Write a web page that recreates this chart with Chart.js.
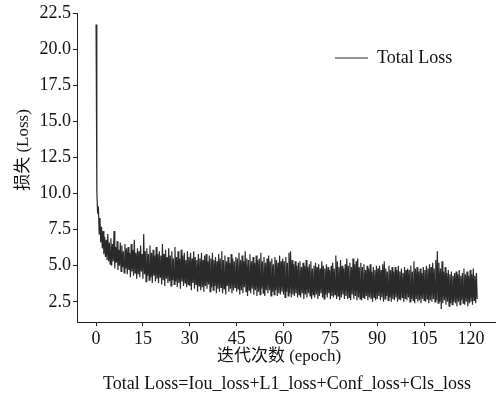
<!DOCTYPE html>
<html>
<head>
<meta charset="utf-8">
<script src="https://cdn.jsdelivr.net/npm/chart.js@4.4.1/dist/chart.umd.min.js"></script>
<style>
  html, body { margin: 0; padding: 0; background: #fff; }
  #wrap { width: 497px; height: 398px; }
</style>
</head>
<body>
<div id="wrap"><canvas id="myChart" width="497" height="398"></canvas></div>
<script>
// values, four samples per epoch
const epochStep = 0.25;
const lossValues = [
  21.7, 10.2, 8.6, 9.1, 7.2, 8.3, 6.6, 7.7, 6.2, 7.4, 5.8, 7.0, 5.6, 6.8, 5.4, 7.2, 5.3, 6.6, 5.1, 6.9,
  5.0, 6.5, 5.3, 7.4, 4.8, 6.3, 5.2, 6.7, 4.7, 6.1, 5.0, 6.6, 4.6, 6.4, 4.9, 6.0, 4.5, 6.5, 4.8, 6.2,
  4.4, 6.3, 4.7, 5.9, 4.2, 6.5, 4.6, 6.1, 4.3, 6.8, 4.5, 5.9, 4.1, 6.2, 4.4, 6.0, 4.2, 6.4, 4.6, 5.8,
  4.1, 7.2, 4.4, 6.0, 3.9, 6.2, 4.3, 5.8, 4.0, 6.4, 4.2, 5.9, 3.8, 6.1, 4.3, 5.7, 3.9, 6.3, 4.1, 5.8,
  3.8, 6.0, 4.2, 5.7, 3.7, 6.5, 4.0, 5.8, 3.6, 6.1, 4.1, 5.6, 3.8, 6.2, 3.9, 5.7, 3.6, 6.0, 4.0, 5.5,
  3.7, 6.3, 3.9, 5.6, 3.5, 6.0, 3.8, 5.5, 3.4, 6.1, 3.9, 5.7, 3.6, 5.9, 3.8, 5.4, 3.5, 6.0, 3.7, 5.6,
  3.6, 5.9, 3.3, 5.5, 3.8, 6.0, 3.4, 5.6, 3.7, 5.4, 3.2, 5.8, 3.6, 5.5, 3.3, 5.9, 3.5, 5.4, 3.2, 5.7,
  3.6, 5.8, 3.4, 5.3, 3.7, 5.7, 3.2, 5.5, 3.5, 5.9, 3.3, 5.4, 3.6, 5.6, 3.1, 5.3, 3.4, 5.8, 3.2, 5.5,
  3.5, 6.0, 3.1, 5.4, 3.4, 5.7, 3.0, 5.3, 3.6, 5.6, 3.2, 5.2, 3.4, 5.8, 3.1, 5.5, 3.3, 5.3, 3.5, 5.6,
  3.2, 5.5, 3.4, 5.9, 3.0, 5.4, 3.3, 5.7, 3.1, 5.3, 3.5, 6.0, 3.2, 5.5, 2.9, 5.4, 3.3, 5.8, 3.1, 5.3,
  3.4, 5.6, 3.0, 5.2, 3.3, 5.7, 2.9, 5.4, 3.2, 5.5, 3.0, 5.9, 3.4, 5.3, 3.1, 5.6, 2.9, 5.2, 3.3, 5.5,
  3.1, 5.7, 3.3, 5.3, 2.9, 5.5, 3.2, 5.1, 3.0, 5.6, 3.3, 5.4, 2.9, 5.2, 3.1, 5.7, 3.0, 5.3, 3.2, 5.5,
  3.0, 5.3, 2.8, 5.6, 3.2, 5.2, 2.9, 5.9, 3.1, 6.0, 2.8, 5.4, 3.0, 5.1, 2.9, 5.3, 3.1, 5.0, 2.8, 5.2,
  3.0, 5.3, 2.8, 4.9, 3.1, 5.2, 2.7, 5.0, 3.0, 5.4, 2.8, 4.9, 3.1, 5.1, 2.9, 5.3, 2.7, 4.8, 3.0, 5.0,
  2.8, 5.2, 3.0, 4.9, 2.7, 5.1, 2.9, 4.8, 3.1, 5.3, 2.8, 5.0, 2.7, 4.8, 3.0, 5.1, 2.8, 4.9, 3.1, 4.7,
  2.7, 5.0, 2.9, 5.2, 2.8, 4.8, 3.0, 5.7, 2.7, 5.3, 2.9, 4.9, 2.6, 5.4, 2.8, 5.0, 3.0, 4.8, 2.7, 5.1,
  2.9, 5.5, 2.7, 5.0, 2.8, 5.2, 2.6, 4.9, 3.0, 5.5, 2.7, 5.1, 2.9, 5.3, 2.6, 5.5, 2.8, 4.9, 2.7, 5.2,
  2.6, 4.9, 2.8, 5.1, 2.7, 4.7, 2.9, 5.0, 2.6, 4.8, 2.8, 5.1, 2.7, 4.6, 2.5, 4.9, 2.8, 4.7, 2.6, 5.0,
  2.7, 4.8, 2.9, 5.0, 2.6, 4.7, 2.8, 5.1, 2.5, 5.3, 2.7, 4.8, 2.9, 4.6, 2.6, 5.0, 2.8, 4.7, 2.5, 4.9,
  2.7, 4.6, 2.6, 4.9, 2.8, 4.7, 2.5, 5.0, 2.7, 4.6, 2.6, 4.8, 2.8, 4.5, 2.5, 4.9, 2.7, 4.7, 2.6, 4.8,
  2.8, 4.7, 2.5, 5.0, 2.7, 4.6, 2.6, 5.3, 2.4, 4.8, 2.7, 4.9, 2.5, 4.6, 2.6, 4.8, 2.4, 4.5, 2.7, 4.9,
  2.6, 4.7, 2.5, 5.0, 2.7, 4.8, 2.4, 5.1, 2.6, 4.9, 2.5, 5.2, 2.7, 4.8, 2.5, 5.4, 2.6, 6.0, 2.4, 5.2,
  2.5, 4.8, 2.0, 5.3, 2.4, 4.6, 2.6, 4.9, 2.3, 4.5, 2.5, 4.7, 2.2, 4.4, 2.4, 4.6, 2.3, 4.3, 2.5, 4.5,
  2.4, 4.6, 2.2, 4.4, 2.5, 4.7, 2.3, 4.3, 2.6, 4.5, 2.4, 4.8, 2.3, 4.4, 2.5, 4.6, 2.2, 4.3, 2.4, 4.7,
  2.5, 4.4, 2.3, 4.8, 2.6, 4.3, 2.4, 4.5, 2.7
];
const epochTicks = [0, 15, 30, 45, 60, 75, 90, 105, 120];
const lossTicks = [2.5, 5.0, 7.5, 10.0, 12.5, 15.0, 17.5, 20.0, 22.5];
const seriesLabel = 'Total Loss';
const xTitle = '迭代次数 (epoch)';
const yTitle = '损失 (Loss)';
const caption = 'Total Loss=Iou_loss+L1_loss+Conf_loss+Cls_loss';

const serif = "'Liberation Serif', 'Times New Roman', 'Noto Sans CJK SC', serif";

const points = lossValues.map((v, i) => ({ x: i * epochStep, y: v }));

// axis titles and the formula line under the chart
const textPlugin = {
  id: 'texts',
  afterDraw(chart) {
    const ctx = chart.ctx;
    ctx.save();
    ctx.fillStyle = '#111';
    ctx.textAlign = 'center';
    ctx.textBaseline = 'middle';
    ctx.font = '17px ' + serif;
    ctx.fillText(xTitle, 279, 357);
    ctx.font = '18px ' + serif;
    ctx.fillText(caption, 287, 384);
    ctx.translate(24, 150);
    ctx.rotate(-Math.PI / 2);
    ctx.font = '17px ' + serif;
    ctx.fillText(yTitle, 0, 0);
    ctx.restore();
  }
};

// put the legend inside the plot, top right
const legendPlacer = {
  id: 'legendPlacer',
  afterLayout(chart) {
    const lg = chart.legend;
    if (!lg) return;
    const w = lg.width, h = lg.height;
    lg.left = 325; lg.top = 39;
    lg.right = lg.left + w; lg.bottom = lg.top + h;
  }
};

const ctx = document.getElementById('myChart').getContext('2d');
const myChart = new Chart(ctx, {
  type: 'line',
  data: {
    datasets: [
      {
        label: seriesLabel,
        data: points,
        borderColor: '#2a2a2a',
        backgroundColor: '#2a2a2a',
        borderWidth: 1.2,
        pointRadius: 0,
        tension: 0,
        fill: false
      }
    ]
  },
  options: {
    responsive: false,
    animation: false,
    layout: { padding: { left: 0, right: 2, top: 13, bottom: 0 } },
    plugins: {
      legend: {
        position: 'chartArea',
        align: 'start',
        labels: {
          usePointStyle: true,
          pointStyle: 'line',
          pointStyleWidth: 33,
          padding: 10,
          color: '#111',
          font: { family: serif, size: 18 }
        }
      },
      tooltip: { enabled: false }
    },
    scales: {
      x: {
        type: 'linear',
        min: -6.1,
        max: 127.7,
        afterBuildTicks: s => { s.ticks = epochTicks.map(v => ({ value: v })); },
        afterFit: s => { s.height = 76; },
        border: { color: '#222', width: 1 },
        grid: { drawOnChartArea: false, tickLength: 4, color: '#222' },
        ticks: {
          padding: 2,
          maxRotation: 0,
          color: '#111',
          font: { family: serif, size: 18 },
          callback: v => String(v)
        }
      },
      y: {
        min: 1.1,
        max: 22.5,
        afterBuildTicks: s => { s.ticks = lossTicks.map(v => ({ value: v })); },
        afterFit: s => { s.width = 77; },
        border: { color: '#222', width: 1 },
        grid: { drawOnChartArea: false, tickLength: 4, color: '#222' },
        ticks: {
          padding: 2,
          color: '#111',
          font: { family: serif, size: 18 },
          callback: v => v.toFixed(1)
        }
      }
    }
  },
  plugins: [textPlugin, legendPlacer]
});
</script>
</body>
</html>
